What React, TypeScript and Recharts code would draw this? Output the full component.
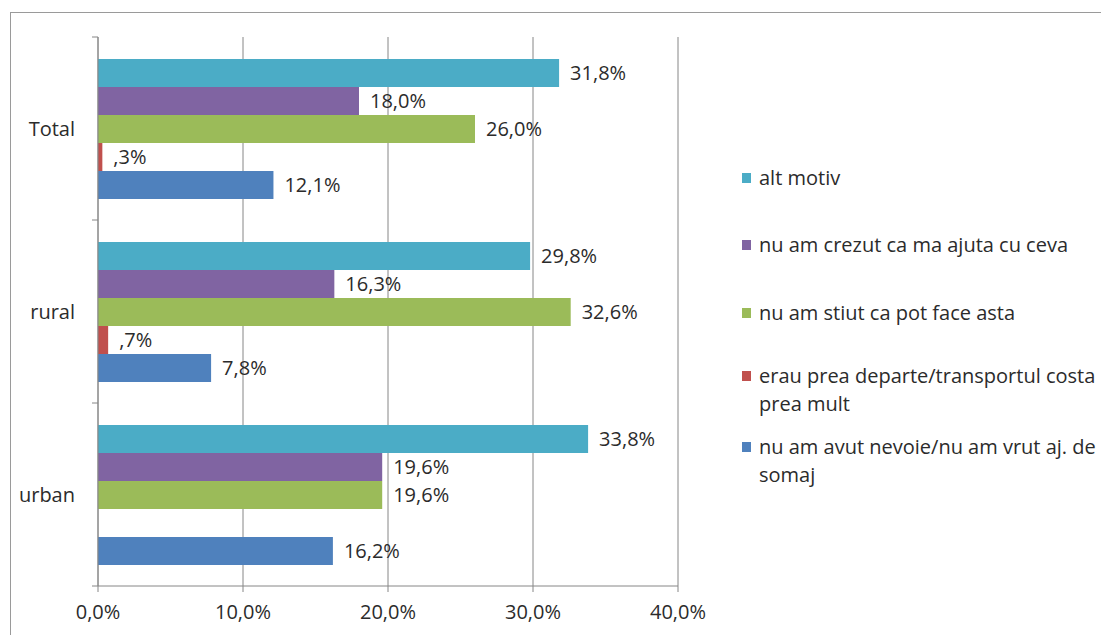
import React from 'react';
import { BarChart, Bar, XAxis, YAxis, CartesianGrid, LabelList } from 'recharts';

const categories = ['Total', 'rural', 'urban'];
const altMotiv = [31.8, 29.8, 33.8];
const nuAmCrezut = [18.0, 16.3, 19.6];
const nuAmStiut = [26.0, 32.6, 19.6];
const preaDeparte = [0.3, 0.7, 0];
const nuAmAvutNevoie = [12.1, 7.8, 16.2];
const xTicks = [0, 10, 20, 30, 40];

const SERIES = [
  { key: 'altMotiv', name: 'alt motiv', values: altMotiv, color: '#4BACC6' },
  { key: 'nuAmCrezut', name: 'nu am crezut ca ma ajuta cu ceva', values: nuAmCrezut, color: '#8064A2' },
  { key: 'nuAmStiut', name: 'nu am stiut ca pot face asta', values: nuAmStiut, color: '#9BBB59' },
  { key: 'preaDeparte', name: 'erau prea departe/transportul costa prea mult', values: preaDeparte, color: '#C0504D' },
  { key: 'nuAmAvutNevoie', name: 'nu am avut nevoie/nu am vrut aj. de somaj', values: nuAmAvutNevoie, color: '#4F81BD' },
];

const data = categories.map((name, i) => {
  const row: Record<string, string | number> = { name };
  SERIES.forEach((s) => {
    row[s.key] = s.values[i];
  });
  return row;
});

const W = 1101;
const H = 635;
const PLOT_LEFT = 98;
const PLOT_TOP = 37;
const PLOT_BOTTOM = 586;
const PLOT_RIGHT = 678;
const BAND = (PLOT_BOTTOM - PLOT_TOP) / categories.length;
const AXIS = '#868686';
const TEXT = '#2b2b2b';
const FONT = '"Open Sans", sans-serif';
const FS = 20;

// legend rows, top of each entry
const legendTops = [164, 231, 299, 362, 433];

const fmt = (v: number) => {
  if (!v) return '';
  const s = v.toFixed(1).replace('.', ',');
  return (v < 1 ? s.replace(/^0/, '') : s) + '%';
};

const CategoryTick = (props: any) => {
  const { x, y, payload, index } = props;
  const half = BAND / 2;
  return (
    <g>
      <text x={x} y={y} dy="0.35em" textAnchor="end" fill={TEXT} fontSize={FS}>
        {payload.value}
      </text>
      <line x1={PLOT_LEFT - 6} x2={PLOT_LEFT} y1={y - half} y2={y - half} stroke={AXIS} />
      {index === categories.length - 1 && (
        <line x1={PLOT_LEFT - 6} x2={PLOT_LEFT} y1={y + half} y2={y + half} stroke={AXIS} />
      )}
    </g>
  );
};

export default function App() {
  return (
    <div
      style={{
        position: 'absolute',
        left: 0,
        top: 0,
        width: W,
        height: H,
        overflow: 'hidden',
        background: '#fff',
        fontFamily: FONT,
      }}
    >
      <div
        style={{
          position: 'absolute',
          left: 10,
          top: 12,
          width: W,
          height: H,
          border: '1px solid #9a9a9a',
        }}
      />
      <BarChart
        width={W}
        height={H}
        data={data}
        layout="vertical"
        margin={{ top: PLOT_TOP, right: W - PLOT_RIGHT, bottom: 0, left: 0 }}
        barCategoryGap={22}
        barGap={0}
        style={{ position: 'absolute', left: 0, top: 0 }}
      >
        <CartesianGrid horizontal={false} stroke={AXIS} />
        <XAxis
          type="number"
          domain={[0, 40]}
          ticks={xTicks}
          tickFormatter={(v: number) => `${v},0%`}
          stroke={AXIS}
          tickSize={6}
          tickMargin={13}
          height={H - PLOT_BOTTOM}
          tick={{ fill: TEXT, fontSize: FS }}
        />
        <YAxis
          type="category"
          dataKey="name"
          width={PLOT_LEFT}
          stroke={AXIS}
          tickLine={false}
          tickSize={0}
          tickMargin={23}
          tick={<CategoryTick />}
        />
        {SERIES.map((s) => (
          <Bar key={s.key} dataKey={s.key} name={s.name} fill={s.color} isAnimationActive={false}>
            <LabelList
              dataKey={s.key}
              position="right"
              offset={11}
              formatter={(v: any) => fmt(Number(v))}
              fill={TEXT}
              fontSize={FS}
            />
          </Bar>
        ))}
      </BarChart>
      {SERIES.map((s, i) => (
        <div
          key={s.key}
          style={{
            position: 'absolute',
            left: 742,
            top: legendTops[i],
            width: 370,
            display: 'flex',
            alignItems: 'flex-start',
            fontSize: FS,
            lineHeight: '28px',
            color: TEXT,
          }}
        >
          <span
            style={{
              display: 'inline-block',
              width: 9,
              height: 10,
              marginTop: 9,
              marginRight: 8,
              background: s.color,
              flex: 'none',
            }}
          />
          <span style={{ width: 345 }}>{s.name}</span>
        </div>
      ))}
    </div>
  );
}
